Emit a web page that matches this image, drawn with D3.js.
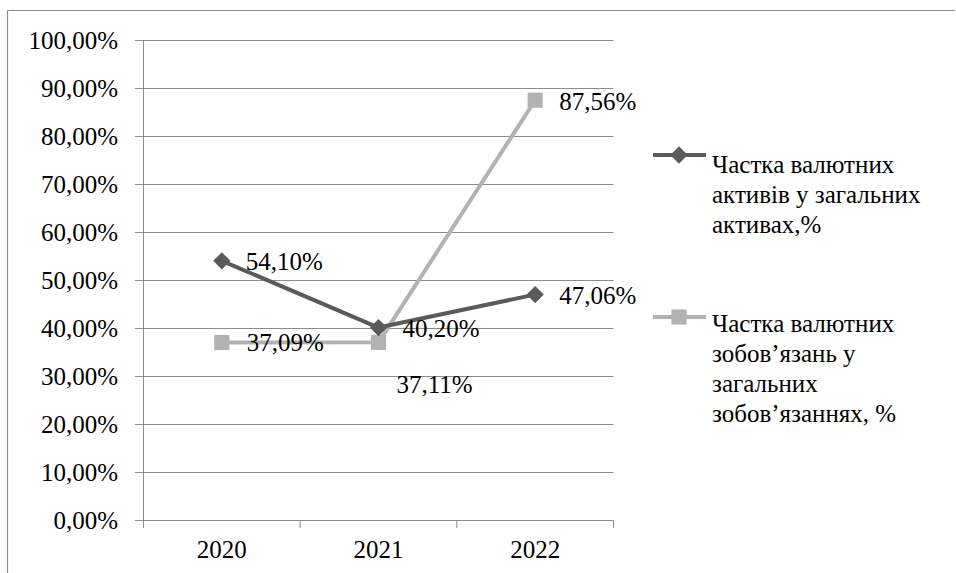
<!DOCTYPE html>
<html><head><meta charset="utf-8">
<script src="https://cdn.jsdelivr.net/npm/d3@7"></script>
<style>body{margin:0;background:#fff}</style>
</head><body>
<svg id="c" width="956" height="573"></svg>
<script>
const years = ["2020","2021","2022"];
const assetsShare = [54.10, 40.20, 47.06];
const liabShare = [37.09, 37.11, 87.56];
const yTicks = [0,10,20,30,40,50,60,70,80,90,100];
const seriesNames = [
  ["Частка валютних","активів у загальних","активах,%"],
  ["Частка валютних","зобов’язань у","загальних","зобов’язаннях, %"]
];
const fmt = v => v.toFixed(2).replace(".", ",") + "%";
const ff = () => `"Liberation Serif", "Tinos", "Times New Roman", monospace`;

const svg = d3.select("#c");
const fs = 25;
svg.append("line").attr("x1",7.5).attr("y1",10.5).attr("x2",955).attr("y2",10.5).attr("stroke","#8c8c8c").attr("stroke-width",1.2);
svg.append("line").attr("x1",7.5).attr("y1",10.5).attr("x2",7.5).attr("y2",573).attr("stroke","#8c8c8c").attr("stroke-width",1.2);

const x = d3.scaleBand().domain(years).range([143.5, 613.5]);
const y = d3.scaleLinear().domain([0,100]).range([520.5, 40.5]);
const gridColor = "#8c8c8c";

svg.selectAll("line.grid").data(yTicks).join("line").attr("class","grid")
  .attr("x1",135).attr("x2",613.5)
  .attr("y1",d=>y(d)).attr("y2",d=>y(d))
  .attr("stroke",gridColor).attr("stroke-width",1);
svg.append("line").attr("x1",143.5).attr("x2",143.5).attr("y1",y(100)).attr("y2",528).attr("stroke",gridColor);
const bounds = years.map(d=>x(d)).concat([x.range()[1]]);
svg.selectAll("line.tick").data(bounds).join("line").attr("class","tick")
  .attr("x1",d=>d).attr("x2",d=>d).attr("y1",y(0)).attr("y2",528).attr("stroke",gridColor);
svg.selectAll("text.ylab").data(yTicks).join("text").attr("class","ylab")
  .attr("x",118).attr("y",d=>y(d)+8).attr("text-anchor","end")
  .attr("font-size",fs).style("font-family",ff).text(d=>fmt(d));
svg.selectAll("text.xlab").data(years).join("text").attr("class","xlab")
  .attr("x",d=>x(d)+x.bandwidth()/2).attr("y",558).attr("text-anchor","middle")
  .attr("font-size",fs).style("font-family",ff).text(d=>d);

const cx = d => x(d)+x.bandwidth()/2;
const dark = "#5a5a5a", light = "#b2b2b2";
const line = d3.line().x((d,i)=>cx(years[i])).y(d=>y(d));

svg.append("path").attr("d",line(liabShare)).attr("fill","none").attr("stroke",light).attr("stroke-width",4).attr("stroke-linejoin","round");
svg.append("path").attr("d",line(assetsShare)).attr("fill","none").attr("stroke",dark).attr("stroke-width",4).attr("stroke-linejoin","round");
const diamond = d3.symbol().type(d3.symbolDiamond2).size(190);
const square = d3.symbol().type(d3.symbolSquare).size(230);
svg.selectAll("path.sq").data(liabShare).join("path").attr("class","sq")
  .attr("d",square).attr("fill",light)
  .attr("transform",(d,i)=>`translate(${cx(years[i])},${y(d)})`);
svg.selectAll("path.dm").data(assetsShare).join("path").attr("class","dm")
  .attr("d",diamond).attr("fill",dark)
  .attr("transform",(d,i)=>`translate(${cx(years[i])},${y(d)})`);

const labels = [
  {v:assetsShare[0], px:cx(years[0])+24, py:y(assetsShare[0])+9},
  {v:assetsShare[1], px:cx(years[1])+24, py:y(assetsShare[1])+9},
  {v:assetsShare[2], px:cx(years[2])+24, py:y(assetsShare[2])+9},
  {v:liabShare[0], px:cx(years[0])+25, py:y(liabShare[0])+9},
  {v:liabShare[1], px:cx(years[1])+18, py:y(liabShare[1])+51},
  {v:liabShare[2], px:cx(years[2])+24, py:y(liabShare[2])+10}
];
svg.selectAll("text.dl").data(labels).join("text").attr("class","dl")
  .attr("x",d=>d.px).attr("y",d=>d.py)
  .attr("font-size",fs).style("font-family",ff).text(d=>fmt(d.v));

function legend(names, color, sym, my, by){
  svg.append("line").attr("x1",653).attr("x2",706).attr("y1",my).attr("y2",my).attr("stroke",color).attr("stroke-width",4);
  svg.append("path").attr("d",sym).attr("fill",color).attr("transform",`translate(679,${my})`);
  svg.selectAll(null).data(names).join("text")
    .attr("x",712).attr("y",(d,i)=>by+i*30)
    .attr("font-size",fs).style("font-family",ff).text(d=>d);
}
legend(seriesNames[0], dark, diamond, 155, 173);
legend(seriesNames[1], light, square, 317, 332);
</script>
</body></html>
